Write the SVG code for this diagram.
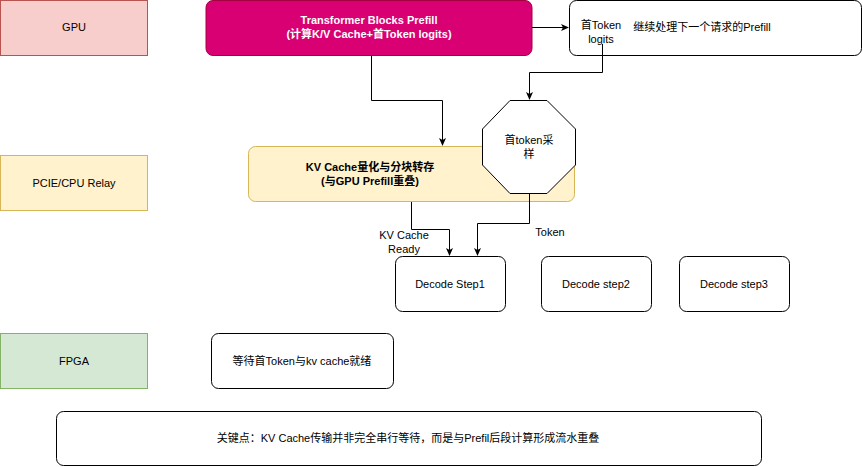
<svg xmlns="http://www.w3.org/2000/svg" width="863" height="467" viewBox="0 0 863 467">
<defs>
<style>
text{font-family:"Liberation Sans",Arial,"Noto Sans CJK SC",sans-serif;font-size:11px;fill:#000;text-anchor:middle}
.b{font-weight:bold}
.w{fill:#fff}
.box{fill:#fff;stroke:#000;stroke-width:1}
.c{fill:none;stroke:#000;stroke-width:1;marker-end:url(#a)}
</style>
<marker id="a" markerWidth="8" markerHeight="8" refX="7" refY="4" orient="auto" markerUnits="userSpaceOnUse"><path d="M0,0.5 L8,4 L0,7.5 L2,4 Z" fill="#000"/></marker>
</defs>
<rect width="863" height="467" fill="#fff"/>
<g id="lane-gpu"><rect x="0.5" y="0.5" width="147" height="55" fill="#f8cecc" stroke="#b85450"/><text x="74" y="31">GPU</text></g>
<g id="lane-pcie"><rect x="0.5" y="155.5" width="147" height="55" fill="#fff2cc" stroke="#d6b656"/><text x="74" y="187">PCIE/CPU Relay</text></g>
<g id="lane-fpga"><rect x="0.5" y="333.5" width="147" height="55" fill="#d5e8d4" stroke="#82b366"/><text x="74" y="365">FPGA</text></g>
<g id="prefill"><rect x="206" y="0.5" width="326" height="55" rx="7" fill="#d80073" stroke="#a50040"/><text class="b w" x="369" y="24">Transformer Blocks Prefill</text><text class="b w" x="369" y="38">(计算K/V Cache+首Token logits)</text></g>
<g id="next"><rect class="box" x="569.5" y="0.5" width="292" height="55" rx="7"/><text x="601" y="29">首Token</text><text x="601" y="43">logits</text><text x="702" y="31">继续处理下一个请求的Prefill</text></g>
<g id="kv"><rect x="248.5" y="146.5" width="326" height="55" rx="7" fill="#fff2cc" stroke="#d6b656"/><text class="b" x="370" y="171">KV  Cache量化与分块转存</text><text class="b" x="370" y="185">(与GPU Prefill重叠)</text></g>
<g id="sample"><polygon points="510,100.5 547,100.5 575.5,129 575.5,165 547,193.5 510,193.5 482.5,165 482.5,129" fill="#fff" stroke="#000"/><text x="529" y="144">首token采</text><text x="529" y="158">样</text></g>
<g id="d1"><rect class="box" x="395.5" y="256.5" width="110" height="55" rx="7"/><text x="450" y="288">Decode Step1</text></g>
<g id="d2"><rect class="box" x="541.5" y="256.5" width="110" height="55" rx="7"/><text x="596" y="288">Decode step2</text></g>
<g id="d3"><rect class="box" x="679.5" y="256.5" width="110" height="55" rx="7"/><text x="734" y="288">Decode step3</text></g>
<g id="fpga"><rect class="box" x="211.5" y="333.5" width="182" height="55" rx="7"/><text x="302" y="365">等待首Token与kv cache就绪</text></g>
<g id="key"><rect class="box" x="56.5" y="411.5" width="705" height="54" rx="7"/><text x="408" y="442">关键点：KV Cache传输并非完全串行等待，而是与Prefil后段计算形成流水重叠</text></g>
<g id="connectors">
<path class="c" d="M532,27.5 H568"/>
<path class="c" d="M371.5,56 V100.5 H442.5 V145"/>
<path class="c" d="M602.5,44 V72.5 H529.5 V99"/>
<path class="c" d="M411.5,202 V229.5 H449.5 V255"/>
<path class="c" d="M529.5,194 V223.5 H477.5 V255"/>
<text x="404" y="239">KV Cache</text><text x="404" y="253">Ready</text>
<text x="550" y="236">Token</text>
</g>
</svg>
